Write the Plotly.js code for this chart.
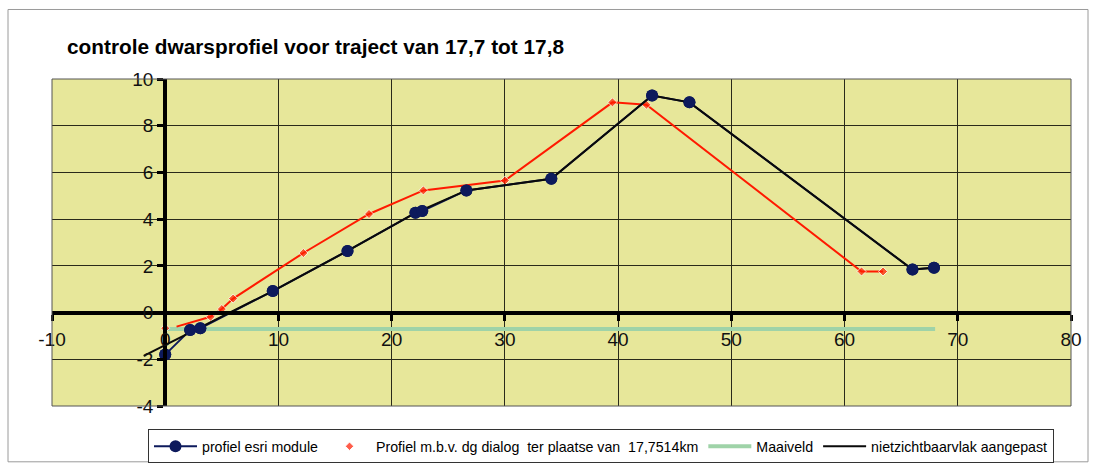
<!DOCTYPE html>
<html>
<head>
<meta charset="utf-8">
<script src="https://cdn.plot.ly/plotly-3.0.1.min.js"></script>
<style>
  html, body { margin: 0; padding: 0; background: #ffffff; }
  #chart { width: 1096px; height: 476px; }
</style>
</head>
<body>
<div id="chart"></div>
<script>
// ---- data ----
const esriX = [0, 2.2, 3.1, 9.5, 16.1, 22.1, 22.7, 26.6, 34.1, 43.0, 46.3, 66.0, 67.9];
const esriY = [-1.8, -0.75, -0.67, 0.92, 2.64, 4.27, 4.35, 5.23, 5.73, 9.29, 9.0, 1.84, 1.92];

const dgX = [0, null, 1.0, 4.0, 5.0, 6.0, 12.2, 18.0, 22.8, 30.0, 39.5, 42.5, 61.5, 63.4];
const dgY = [-0.67, null, -0.6, -0.18, 0.15, 0.6, 2.55, 4.22, 5.23, 5.65, 9.0, 8.9, 1.76, 1.76];

const maaiveldX = [0, 68];
const maaiveldY = [-0.7, -0.7];

const nzvX = [-1.9, 9.5, 16.1, 22.1, 26.6, 34.1, 43.0, 46.3, 66.0, 67.9];
const nzvY = [-1.85, 0.92, 2.64, 4.27, 5.23, 5.73, 9.29, 9.0, 1.84, 1.92];

const xTicks = [-10, 0, 10, 20, 30, 40, 50, 60, 70, 80];
const yTicks = [-4, -2, 0, 2, 4, 6, 8, 10];

const seriesNames = [
  "profiel esri module",
  "Profiel m.b.v. dg dialog  ter plaatse van  17,7514km",
  "Maaiveld",
  "nietzichtbaarvlak aangepast"
];
const titleText = "controle dwarsprofiel voor traject van 17,7 tot 17,8";

// ---- layout geometry ----
const W = 1096, H = 476;
const plotL = 52, plotR = 1071, plotT = 79, plotB = 413;
const xRange = [xTicks[0], xTicks[xTicks.length - 1]];
const yRange = [yTicks[0], yTicks[yTicks.length - 1]];
const pw = plotR - plotL, ph = plotB - plotT;
const xAxisPos = (0 - yRange[0]) / (yRange[1] - yRange[0]);
const yAxisPos = (0 - xRange[0]) / (xRange[1] - xRange[0]);

const fontFam = "Liberation Sans, Arial, sans-serif";
const navy = "#0d1a5c";
const red = "#ff1a00";

// marker sizes for the red series (the line start after the gap has no marker)
const dgSizes = dgX.map((v, i) => (i === 2 ? 0 : 7));

const traces = [
  {
    x: maaiveldX, y: maaiveldY, type: "scatter", mode: "lines",
    name: seriesNames[2], legendrank: 3,
    line: { color: "#9fd3a8", width: 4 }
  },
  {
    x: dgX, y: dgY, type: "scatter", mode: "lines",
    name: seriesNames[1], showlegend: false, connectgaps: false,
    line: { color: red, width: 2 }, hoverinfo: "skip"
  },
  {
    x: dgX, y: dgY, type: "scatter", mode: "markers",
    name: seriesNames[1], legendrank: 2,
    marker: { color: red, symbol: "diamond", size: dgSizes }
  },
  {
    x: esriX, y: esriY, type: "scatter", mode: "lines+markers",
    name: seriesNames[0], legendrank: 1,
    line: { color: navy, width: 2 },
    marker: { color: navy, size: 12, symbol: "circle" }
  },
  {
    x: nzvX, y: nzvY, type: "scatter", mode: "lines",
    name: seriesNames[3], legendrank: 4,
    line: { color: "#0a0a0a", width: 2 }
  },
  {
    x: esriX, y: esriY, type: "scatter", mode: "markers",
    name: seriesNames[0], showlegend: false, hoverinfo: "skip",
    marker: { color: navy, size: 12, symbol: "circle" }
  }
];

const layout = {
  width: W, height: H,
  paper_bgcolor: "#ffffff",
  plot_bgcolor: "#e7e79a",
  margin: { l: plotL, r: W - plotR, t: plotT, b: H - plotB, pad: 0 },
  font: { family: fontFam, color: "#000000" },
  title: {
    text: "<b>" + titleText + "</b>",
    font: { family: fontFam, size: 20.8, color: "#000000" },
    xref: "container", yref: "container",
    x: 67 / W, xanchor: "left",
    y: 1 - 47 / H, yanchor: "middle"
  },
  xaxis: {
    range: xRange, tickmode: "array", tickvals: xTicks,
    ticktext: xTicks.map(String),
    showgrid: true, gridcolor: "#2a2a1a", gridwidth: 1,
    zeroline: false,
    showline: true, linecolor: "#000000", linewidth: 4,
    ticks: "outside", ticklen: 6, tickwidth: 3, tickcolor: "#000000",
    anchor: "free", position: xAxisPos,
    tickfont: { family: fontFam, size: 19, color: "#111111" },
    ticklabelstandoff: 3,
    fixedrange: true
  },
  yaxis: {
    range: yRange, tickmode: "array", tickvals: yTicks,
    ticktext: yTicks.map(String),
    showgrid: true, gridcolor: "#2a2a1a", gridwidth: 1,
    zeroline: false,
    showline: true, linecolor: "#000000", linewidth: 4,
    ticks: "outside", ticklen: 6, tickwidth: 3, tickcolor: "#000000",
    anchor: "free", position: yAxisPos,
    tickfont: { family: fontFam, size: 19, color: "#111111" },
    fixedrange: true
  },
  showlegend: true,
  legend: {
    orientation: "h",
    x: (148 - plotL) / pw, xanchor: "left",
    y: (plotB - 437) / ph, yanchor: "top",
    bgcolor: "#ffffff", bordercolor: "#333333", borderwidth: 1,
    font: { family: fontFam, size: 14.2, color: "#000000" },
    itemwidth: 43, tracegroupgap: 0
  },
  shapes: [
    // plot area frame
    { type: "rect", xref: "paper", yref: "paper", x0: 0, x1: 1, y0: 0, y1: 1,
      line: { color: "#555555", width: 1 }, fillcolor: "rgba(0,0,0,0)", layer: "above" },
    // outer chart frame
    { type: "rect", xref: "paper", yref: "paper",
      x0: (8 - plotL) / pw, x1: (1088 - plotL) / pw,
      y0: (plotB - 470) / ph, y1: (plotB - 8) / ph,
      line: { color: "#9a9a9a", width: 1 }, fillcolor: "rgba(0,0,0,0)", layer: "below" }
  ]
};

Plotly.newPlot("chart", traces, layout, { staticPlot: true, displayModeBar: false });
</script>
</body>
</html>
